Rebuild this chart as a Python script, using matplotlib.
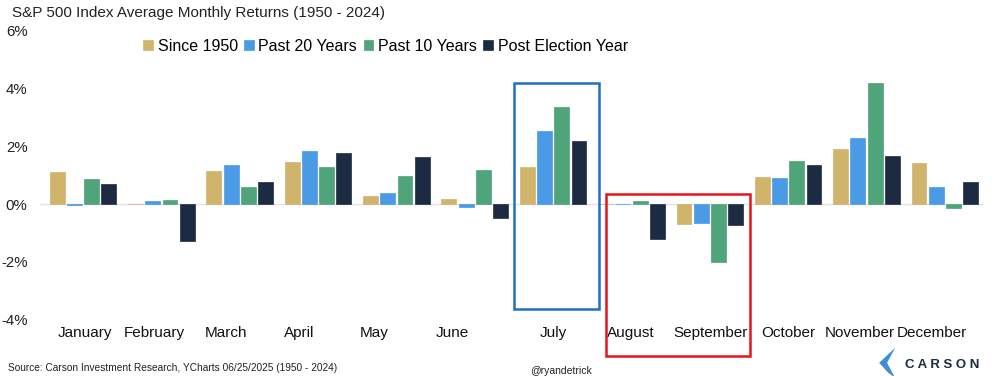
import matplotlib
matplotlib.use("Agg")
import matplotlib.pyplot as plt
from matplotlib.patches import Rectangle, Polygon
import numpy as np

plt.rcParams['font.family'] = ['Liberation Sans', 'DejaVu Sans']

months = ["January", "February", "March", "April", "May", "June", "July",
          "August", "September", "October", "November", "December"]
series_names = ["Since 1950", "Past 20 Years", "Past 10 Years", "Post Election Year"]
since_1950 = [1.10, 0.00, 1.13, 1.46, 0.29, 0.16, 1.29, 0.00, -0.70, 0.93, 1.89, 1.42]
past_20 = [-0.03, 0.11, 1.36, 1.83, 0.37, -0.09, 2.52, 0.00, -0.67, 0.91, 2.28, 0.59]
past_10 = [0.86, 0.15, 0.59, 1.28, 0.96, 1.16, 3.36, 0.09, -1.99, 1.47, 4.17, -0.14]
post_election = [0.69, -1.29, 0.76, 1.76, 1.63, -0.49, 2.17, -1.21, -0.71, 1.36, 1.67, 0.76]
y_ticks = [-4, -2, 0, 2, 4, 6]
y_tick_labels = ["-4%", "-2%", "0%", "2%", "4%", "6%"]

colors = ["#D1B46B", "#4A9AE6", "#4FA47A", "#1C2B41"]
label_offsets = [0.03, -0.09, -0.17, -0.24, -0.28, -0.29, 0.0, -0.01, 0.01, 0.0, -0.09, -0.17]

fig = plt.figure(figsize=(9.99, 3.76), dpi=100)
ax = fig.add_axes([0.04, 0.149, 0.945, 0.771])

x = np.arange(len(months))
pitch = 0.22
width = 0.19
for i, (vals, c, name) in enumerate(zip([since_1950, past_20, past_10, post_election], colors, series_names)):
    ax.bar(x + (i - 1.5) * pitch, vals, width=width, color=c, label=name,
           edgecolor=c, linewidth=0.5, zorder=3)

ax.axhline(0, color="#E3E3E3", linewidth=1.0, zorder=1)
ax.set_xlim(-0.55, 11.5)
ax.set_ylim(-4, 6)
ax.set_yticks(y_ticks)
ax.set_yticklabels(y_tick_labels, fontsize=10.8, color="#222222")
ax.tick_params(axis='y', length=0, pad=9)
ax.set_xticks([])
for sp in ax.spines.values():
    sp.set_visible(False)

for i, m in enumerate(months):
    ax.text(x[i] + label_offsets[i], -4.45, m, ha='center', va='center',
            fontsize=11, color="#111111")

# highlight boxes
ax.add_patch(Rectangle((5.50, -3.62), 1.08, 7.79, fill=False, edgecolor="#1F6FC5",
                       linewidth=1.8, zorder=4, clip_on=False))
ax.add_patch(Rectangle((6.68, -5.24), 1.83, 5.58, fill=False, edgecolor="#E8141B",
                       linewidth=1.8, zorder=4, clip_on=False))

leg = ax.legend(loc='upper center', bbox_to_anchor=(0.366, 1.02), ncol=4, frameon=False,
                fontsize=11.5, handlelength=0.6, handleheight=0.6, handletextpad=0.3,
                columnspacing=0.4)

fig.text(0.012, 0.965, "S&P 500 Index Average Monthly Returns (1950 - 2024)",
         fontsize=11, color="#222222", va='center', ha='left')
fig.text(0.008, 0.02, "Source: Carson Investment Research, YCharts 06/25/2025 (1950 - 2024)",
         fontsize=7.3, color="#222222", va='center', ha='left')
fig.text(0.562, 0.012, "@ryandetrick", fontsize=7.5, color="#222222", va='center', ha='center')
fig.text(0.906, 0.03, "C A R S O N", fontsize=9.5, color="#1C2B41", va='center', ha='left',
         fontweight='bold')
# chevron logo
fig.patches.append(Polygon([(0.896, 0.075), (0.880, 0.035), (0.896, -0.005), (0.888, 0.035)],
                           closed=True, transform=fig.transFigure, facecolor="#3A8FD8",
                           edgecolor="none"))
fig.patches.append(Polygon([(0.880, 0.035), (0.896, -0.005), (0.889, 0.01)],
                           closed=True, transform=fig.transFigure, facecolor="#1C2B41",
                           edgecolor="none"))

fig.savefig("out.png", dpi=100, facecolor="white")
